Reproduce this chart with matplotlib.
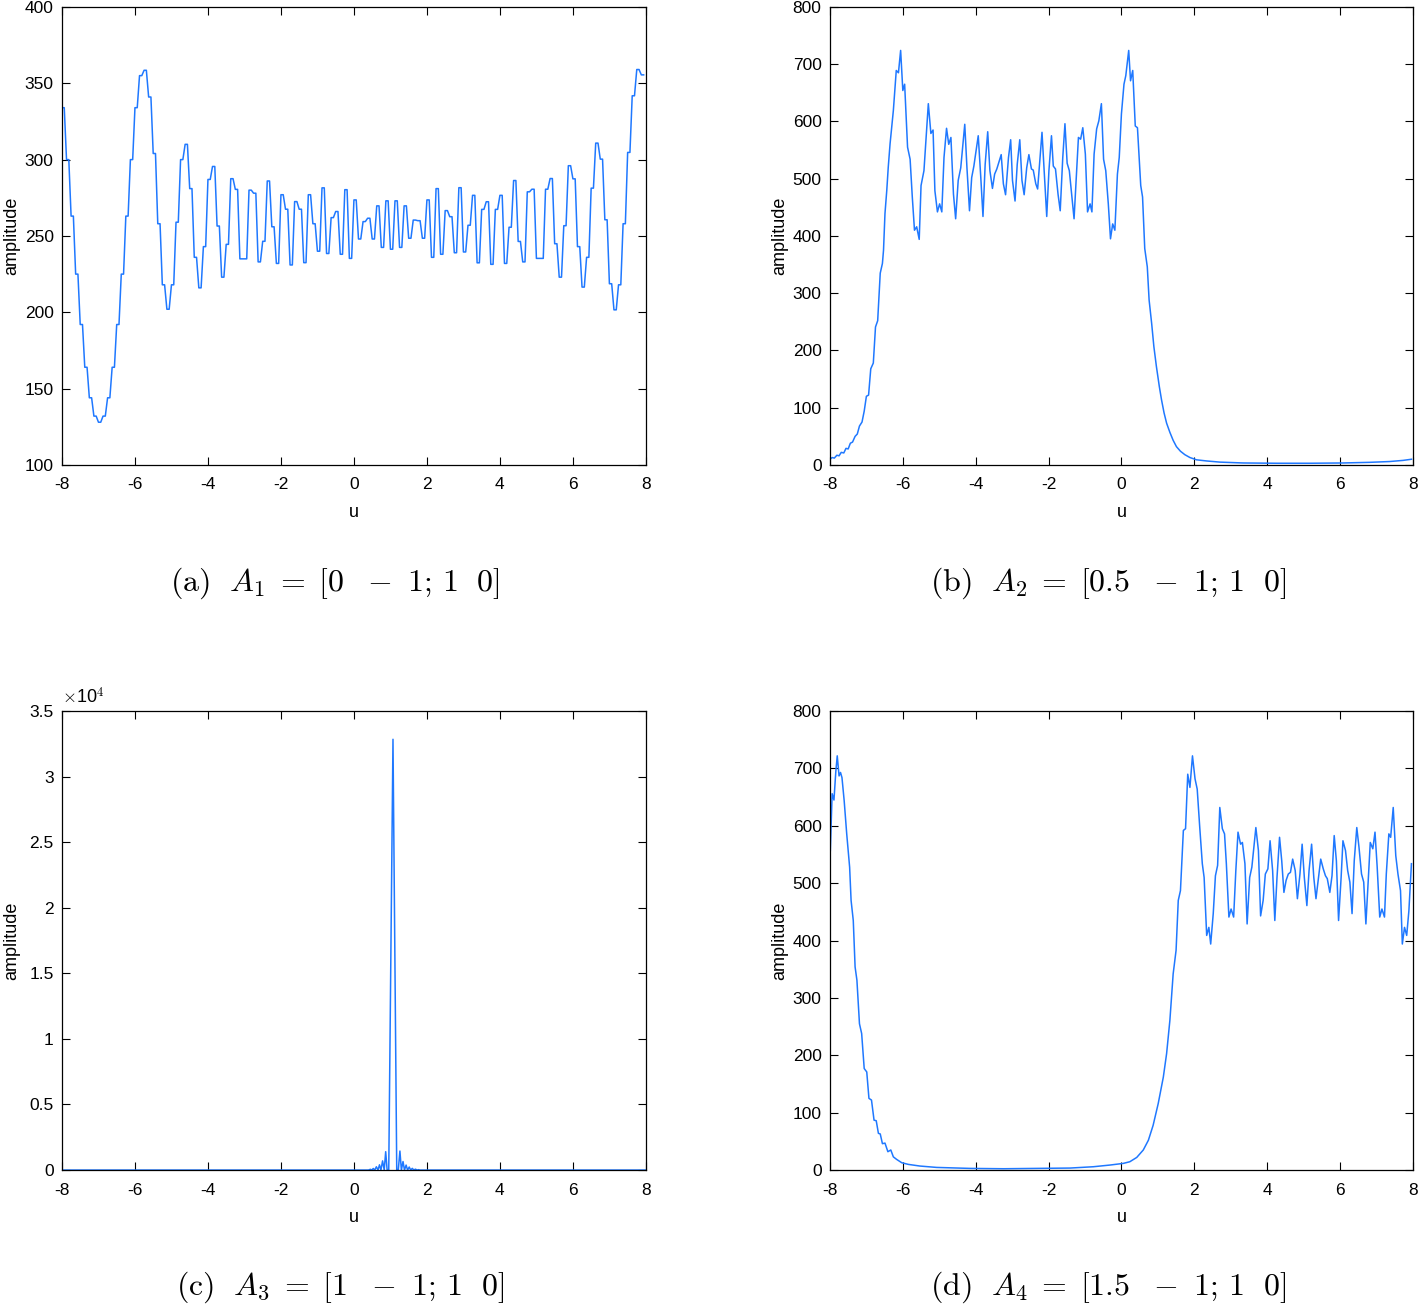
import numpy as np
import matplotlib
matplotlib.use('Agg')
import matplotlib.pyplot as plt

plt.rcParams['font.family'] = ['Liberation Sans', 'DejaVu Sans']
plt.rcParams['mathtext.fontset'] = 'cm'

LINE_COLOR = '#1f78ff'

# (a) A1 = [0 -1; 1 0] : each level is held over two samples (step 1/16)
a_step = 0.0625
a_levels = [334, 300, 263, 225, 192, 164, 144, 132, 128, 132, 144, 164, 192, 225, 263, 300,
            334, 355, 358.5, 341, 304, 258, 218, 202, 218, 259, 300, 310, 281, 236, 216, 243,
            287, 295.5, 256.5, 223, 244.5, 287.5, 280.5, 235, 235, 280, 278, 233, 246.5, 286, 256, 232,
            277, 267.5, 231, 272.5, 267.5, 232.5, 277, 258, 240, 281.5, 238.5, 262, 266, 238, 280.3, 235.3,
            273.6, 248, 259.4, 261.6, 248, 269.7, 242.5, 273, 241.3, 273, 242.5, 269.7, 248.5, 260.4, 260, 248.5,
            273.6, 236, 281, 238, 266.6, 262.6, 239, 281.6, 239.5, 257, 276.6, 232.4, 267.4, 272.4, 231.4, 267.4,
            276.6, 232, 255.7, 286.3, 246.4, 233, 278.9, 280.6, 235.3, 235.3, 280.6, 287.6, 244.9, 223, 256.7, 296,
            287.4, 243, 216.5, 236, 281.3, 310.8, 300.3, 260.6, 218.7, 201.6, 218, 258, 304.7, 341.8, 359, 355.5]

# (b) A2 = [0.5 -1; 1 0]
u_b = [-8.00, -7.94, -7.88, -7.81, -7.75, -7.69, -7.62, -7.56, -7.50, -7.44, -7.38, -7.31, -7.25,
       -7.19, -7.12, -7.06, -7.00, -6.94, -6.88, -6.81, -6.75, -6.69, -6.62, -6.56, -6.53, -6.49,
       -6.44, -6.40, -6.35, -6.26, -6.18, -6.12, -6.06, -6.00, -5.95, -5.87, -5.80, -5.74, -5.68,
       -5.62, -5.55, -5.50, -5.42, -5.30, -5.23, -5.17, -5.12, -5.05, -4.99, -4.93, -4.87, -4.80,
       -4.74, -4.68, -4.61, -4.55, -4.48, -4.41, -4.30, -4.24, -4.17, -4.11, -4.05, -3.93, -3.86,
       -3.80, -3.74, -3.67, -3.61, -3.54, -3.48, -3.42, -3.30, -3.24, -3.18, -3.10, -3.04, -2.99,
       -2.92, -2.86, -2.79, -2.73, -2.67, -2.60, -2.54, -2.47, -2.42, -2.35, -2.30, -2.24, -2.18,
       -2.12, -2.05, -1.99, -1.92, -1.87, -1.81, -1.74, -1.68, -1.61, -1.55, -1.49, -1.43, -1.36,
       -1.30, -1.24, -1.18, -1.12, -1.06, -0.99, -0.93, -0.86, -0.81, -0.75, -0.68, -0.62, -0.55,
       -0.49, -0.43, -0.36, -0.30, -0.24, -0.18, -0.11, -0.06, 0.00, 0.07, 0.12, 0.20, 0.25, 0.31,
       0.38, 0.44, 0.53, 0.58, 0.64, 0.71, 0.76, 0.83, 0.89, 0.96, 1.04, 1.10, 1.17, 1.24, 1.33,
       1.42, 1.51, 1.62, 1.74, 1.88, 2.06, 2.34, 2.70, 3.34, 4.26, 5.17, 6.08, 6.81, 7.36, 7.73, 7.96]
amp_b = [10, 13, 12, 17, 16, 22, 21, 29, 28, 38, 40, 50, 54,
         68, 75, 94, 120, 122, 168, 178, 241, 252, 335, 352, 375, 439,
         480, 520, 561, 619, 689, 685, 724, 654, 665, 555, 534, 468, 410,
         416, 394, 488, 514, 631, 579, 585, 479, 442, 456, 442, 537, 588,
         560, 572, 473, 430, 497, 519, 595, 519, 444, 502, 522, 575, 502,
         434, 525, 582, 514, 483, 508, 517, 542, 491, 472, 537, 568, 497,
         461, 525, 568, 497, 472, 519, 542, 517, 515, 491, 482, 531, 581,
         514, 434, 514, 575, 522, 517, 473, 444, 537, 596, 527, 514, 468,
         430, 502, 572, 569, 589, 543, 442, 456, 442, 543, 587, 601, 631,
         534, 514, 456, 395, 421, 410, 508, 537, 613, 665, 680, 724, 671, 689,
         592, 589, 488, 468, 378, 346, 288, 247, 207, 172, 137, 114, 91, 73, 57,
         43, 32, 24, 18, 13, 9, 7, 5, 3.5, 3, 3, 3.5, 4.6, 6, 8, 10]

# (c) A3 = [1 -1; 1 0]
u_c = [-8.0, 0.0, 0.40, 0.45, 0.49, 0.53, 0.57, 0.615, 0.66, 0.70, 0.74, 0.785, 0.83, 0.87,
       0.91, 0.954, 1.07, 1.173, 1.215, 1.26, 1.30, 1.345, 1.385, 1.43, 1.47, 1.515, 1.555,
       1.60, 1.64, 1.685, 1.73, 1.77, 1.81, 2.5, 8.0]
amp_c = [0, 0, 0, 60, 0, 120, 0, 250, 0, 400, 0, 700, 0, 1400,
         0, 0, 32850, 0, 0, 1450, 0, 650, 0, 380, 0, 230, 0,
         130, 0, 70, 0, 30, 0, 0, 0]

# (d) A4 = [1.5 -1; 1 0]
u_d = [-7.99, -7.94, -7.89, -7.84, -7.80, -7.75, -7.71, -7.67, -7.61, -7.54, -7.46, -7.42, -7.36,
       -7.31, -7.26, -7.19, -7.13, -7.06, -6.99, -6.93, -6.86, -6.79, -6.73, -6.67, -6.62, -6.56,
       -6.49, -6.41, -6.33, -6.26, -6.17, -6.03, -5.85, -5.53, -5.07, -4.16, -3.24, -2.33, -1.41,
       -0.77, -0.32, 0.05, 0.23, 0.42, 0.60, 0.74, 0.87, 1.01, 1.15, 1.24, 1.33, 1.42, 1.50, 1.56,
       1.62, 1.70, 1.76, 1.82, 1.88, 1.95, 2.02, 2.08, 2.15, 2.22, 2.27, 2.34, 2.40, 2.45, 2.52,
       2.58, 2.64, 2.70, 2.77, 2.83, 2.88, 2.95, 3.01, 3.08, 3.14, 3.20, 3.27, 3.32, 3.39, 3.45,
       3.52, 3.58, 3.69, 3.76, 3.82, 3.89, 3.95, 4.02, 4.08, 4.15, 4.21, 4.27, 4.34, 4.40, 4.46,
       4.52, 4.58, 4.64, 4.70, 4.77, 4.83, 4.90, 4.96, 5.02, 5.09, 5.15, 5.22, 5.28, 5.34, 5.41,
       5.47, 5.54, 5.60, 5.65, 5.72, 5.78, 5.84, 5.90, 5.96, 6.03, 6.08, 6.15, 6.21, 6.27, 6.33,
       6.39, 6.46, 6.52, 6.59, 6.65, 6.71, 6.78, 6.83, 6.90, 6.96, 7.02, 7.09, 7.15, 7.22, 7.27,
       7.34, 7.39, 7.46, 7.53, 7.59, 7.66, 7.71, 7.77, 7.83, 7.89, 7.96]
amp_d = [557, 656, 645, 694, 722, 687, 693, 684, 644, 586, 528, 470, 435,
         354, 331, 255, 238, 177, 171, 125, 122, 87, 86, 64, 63, 46,
         47, 32, 35, 23, 18.6, 12.8, 9.9, 7, 4.6, 2.9, 2.3, 2.9, 3.5,
         5.8, 8.7, 11.6, 14.5, 22, 35, 52, 78, 116, 162, 203, 261, 342, 383, 470,
         487, 592, 595, 690, 667, 722, 682, 664, 597, 534, 510, 409, 423, 394, 447,
         513, 531, 632, 595, 586, 534, 441, 455, 441, 522, 589, 568, 571, 534, 429,
         510, 528, 597, 557, 443, 470, 516, 525, 574, 522, 435, 510, 580, 539, 484,
         505, 516, 519, 542, 522, 473, 516, 568, 510, 461, 522, 568, 510, 473, 510,
         542, 525, 513, 508, 484, 513, 583, 539, 435, 510, 574, 557, 522, 502, 447,
         539, 597, 563, 516, 502, 429, 510, 571, 560, 589, 528, 441, 455, 441, 516,
         586, 580, 632, 548, 516, 487, 394, 423, 409, 452, 534]

x_ticks = [-8, -6, -4, -2, 0, 2, 4, 6, 8]
captions = [r'$\mathrm{(a)}\ \ A_1\;=\;[0\ \ -\ 1;\,1\ \ 0]$',
            r'$\mathrm{(b)}\ \ A_2\;=\;[0.5\ \ -\ 1;\,1\ \ 0]$',
            r'$\mathrm{(c)}\ \ A_3\;=\;[1\ \ -\ 1;\,1\ \ 0]$',
            r'$\mathrm{(d)}\ \ A_4\;=\;[1.5\ \ -\ 1;\,1\ \ 0]$']


def style_axes(ax, ylim, yticks, ylabels):
    ax.set_xlim(-8, 8)
    ax.set_ylim(*ylim)
    ax.set_xticks(x_ticks)
    ax.set_xticklabels([str(t) for t in x_ticks])
    ax.set_yticks(yticks)
    ax.set_yticklabels(ylabels)
    ax.tick_params(direction='in', top=True, right=True, length=6, width=0.8,
                   labelsize=12.5, pad=6)
    ax.tick_params(axis='x', pad=9)
    for s in ax.spines.values():
        s.set_linewidth(0.9)
    ax.set_xlabel('u', fontsize=13)
    ax.set_ylabel('amplitude', fontsize=13)
    ax.xaxis.set_label_coords(0.5, -0.085)
    ax.yaxis.set_label_coords(-0.072, 0.5)


fig = plt.figure(figsize=(14.18, 13.05), dpi=100)
ax_a = fig.add_axes([0.0437, 0.6437, 0.4118, 0.3510])
ax_b = fig.add_axes([0.5853, 0.6437, 0.4111, 0.3510])
ax_c = fig.add_axes([0.0437, 0.1034, 0.4118, 0.3517])
ax_d = fig.add_axes([0.5853, 0.1034, 0.4111, 0.3517])

u_a = -8 + a_step * np.arange(2 * len(a_levels))
ax_a.plot(u_a, np.repeat(a_levels, 2), color=LINE_COLOR, lw=1.1)
style_axes(ax_a, (100, 400), range(100, 401, 50), [str(t) for t in range(100, 401, 50)])

ax_b.plot(u_b, amp_b, color=LINE_COLOR, lw=1.1)
style_axes(ax_b, (0, 800), range(0, 801, 100), [str(t) for t in range(0, 801, 100)])

ax_c.plot(u_c, amp_c, color=LINE_COLOR, lw=1.1)
c_ticks = np.arange(0, 35001, 5000)
style_axes(ax_c, (0, 35000), c_ticks, ['0', '0.5', '1', '1.5', '2', '2.5', '3', '3.5'])
ax_c.text(0.0, 1.008, r'$\times$10$^4$', transform=ax_c.transAxes, fontsize=13,
          ha='left', va='bottom', family='Liberation Sans')

ax_d.plot(u_d, amp_d, color=LINE_COLOR, lw=1.1)
style_axes(ax_d, (0, 800), range(0, 801, 100), [str(t) for t in range(0, 801, 100)])

fig.text(335 / 1418, 1 - 583 / 1305, captions[0], fontsize=23, ha='center', va='center')
fig.text(1108 / 1418, 1 - 583 / 1305, captions[1], fontsize=23, ha='center', va='center')
fig.text(340 / 1418, 1 - 1287 / 1305, captions[2], fontsize=23, ha='center', va='center')
fig.text(1108 / 1418, 1 - 1287 / 1305, captions[3], fontsize=23, ha='center', va='center')

fig.savefig('out.png', dpi=100)
